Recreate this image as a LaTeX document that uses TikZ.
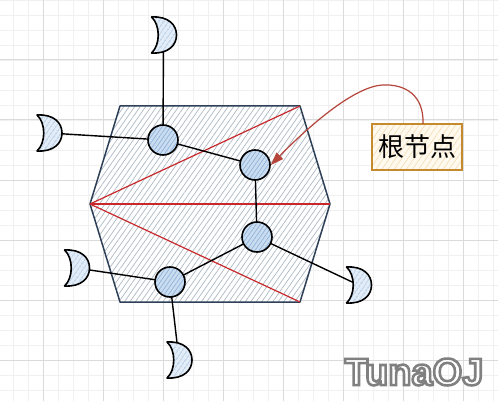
\documentclass[tikz,border=0pt]{standalone}
\usepackage{fontspec}
\setmainfont{Liberation Sans}
\newfontfamily\cjk{Noto Sans CJK SC}
\usetikzlibrary{patterns.meta,arrows.meta}
\pgfdeclarelayer{bg}
\pgfdeclarelayer{edges}
\pgfsetlayers{bg,edges,main}
\definecolor{gridmaj}{HTML}{DADADA}
\definecolor{gridmin}{HTML}{F0F0F0}
\definecolor{hexborder}{HTML}{2E4057}
\definecolor{hexhatch}{HTML}{AEB9C4}
\definecolor{redln}{HTML}{C8282C}
\definecolor{cfill}{HTML}{C9DCF0}
\definecolor{chatch}{HTML}{8AAFD8}
\definecolor{mfill}{HTML}{E3EDF8}
\definecolor{lblborder}{HTML}{C68A2E}
\definecolor{lblfill}{HTML}{FFF9EE}
\definecolor{lblhatch}{HTML}{F1D8AE}
\definecolor{arrowc}{HTML}{B5443A}
\newcommand\drawmoon[1]{\path[moonshape, shift={(#1.center)}] (-12,-18) .. controls (5,-19) and (13,-10) .. (13,0) .. controls (13,10) and (5,19) .. (-12,18) .. controls (-3,10) and (-3,-10) .. (-12,-18) -- cycle;}
\newcommand\outlinetext[1]{\special{pdf:literal direct 2 Tr 2.6 w 1 1 1 rg 0.5 0.5 0.5 RG}#1\special{pdf:literal direct 0 Tr 1 w}}
\begin{document}
\begin{tikzpicture}[x=1pt,y=-1pt,
  hexstyle/.style={draw=hexborder, line width=1.5pt, line join=round, preaction={fill=white},
    pattern={Lines[angle=55,distance=4.5pt,line width=0.7pt]}, pattern color=hexhatch},
  redline/.style={draw=redln, line width=1.2pt},
  tnode/.style={circle, minimum size=30pt, inner sep=0pt, draw=black, line width=1.6pt,
    preaction={fill=cfill}, pattern={Lines[angle=55,distance=3.5pt,line width=0.6pt]}, pattern color=chatch},
  moonbox/.style={rectangle, minimum width=27pt, minimum height=36pt, inner sep=0pt},
  moonshape/.style={draw=black, line width=1.6pt, line join=round, preaction={fill=mfill},
    pattern={Lines[angle=55,distance=4pt,line width=0.7pt]}, pattern color=chatch},
  conn/.style={draw=black, line width=1.4pt},
  lblbox/.style={draw=lblborder, line width=1.5pt, preaction={fill=lblfill},
    pattern={Lines[angle=55,distance=5pt,line width=0.5pt]}, pattern color=lblhatch,
    minimum width=90pt, minimum height=46pt, inner sep=0pt,
    font=\cjk\fontsize{26}{30}\selectfont},
  rarrow/.style={draw=arrowc, line width=1.2pt, -{Triangle[length=13pt,width=9pt]}},
  wm/.style={font=\bfseries\fontsize{38}{42}\selectfont, inner sep=0pt}
]
\useasboundingbox (0,0) rectangle (498,401);
\begin{pgfonlayer}{bg}
  \fill[white] (0,0) rectangle (498,401);
  \foreach \x in {-2,13,...,498} \draw[gridmin, line width=0.6pt] (\x,0) -- (\x,401);
  \foreach \y in {0,15,...,401} \draw[gridmin, line width=0.6pt] (0,\y) -- (498,\y);
  \foreach \x in {43,103,...,463} \draw[gridmaj, line width=1pt] (\x,0) -- (\x,401);
  \foreach \y in {0,60,...,360} \draw[gridmaj, line width=1pt] (0,\y) -- (498,\y);
  \coordinate (L) at (90,204);
  \coordinate (TL) at (120,106);
  \coordinate (TR) at (300,106);
  \coordinate (R) at (330,204);
  \coordinate (BR) at (300,302);
  \coordinate (BL) at (120,302);
  \path[hexstyle] (L) -- (TL) -- (TR) -- (R) -- (BR) -- (BL) -- cycle;
  \draw[redline] (L) -- (TR);
  \draw[redline] (L) -- (R);
  \draw[redline] (L) -- (BR);
\end{pgfonlayer}

\node[tnode] (A) at (163,140) {};
\node[tnode] (B) at (255,165) {};
\node[tnode] (C) at (257,237) {};
\node[tnode] (D) at (170,282) {};

\node[moonbox] (m1) at (163.5,35) {};
\node[moonbox] (m2) at (49,133) {};
\node[moonbox] (m3) at (76.5,268) {};
\node[moonbox] (m4) at (179,360) {};
\node[moonbox] (m5) at (358.5,285) {};
\drawmoon{m1}
\drawmoon{m2}
\drawmoon{m3}
\drawmoon{m4}
\drawmoon{m5}

\begin{pgfonlayer}{edges}
  \draw[conn] (m1.center) -- (A.center);
  \draw[conn] (m2.center) -- (A.center);
  \draw[conn] (A.center) -- (B.center);
  \draw[conn] (B.center) -- (C.center);
  \draw[conn] (C.center) -- (D.center);
  \draw[conn] (C.center) -- (m5.center);
  \draw[conn] (D.center) -- (m3.center);
  \draw[conn] (D.center) -- (m4.center);
\end{pgfonlayer}

\node[lblbox] (lbl) at (417,147) {根节点};
\coordinate (apex) at (383,85);
\draw[rarrow] ([xshift=6pt]lbl.north) .. controls (424,95) and (405,84) .. (apex)
  .. controls (355,86) and (310,125) .. (B.east);

\node[wm] (wmk) at (414,372) {\outlinetext{TunaOJ}};
\end{tikzpicture}
\end{document}
